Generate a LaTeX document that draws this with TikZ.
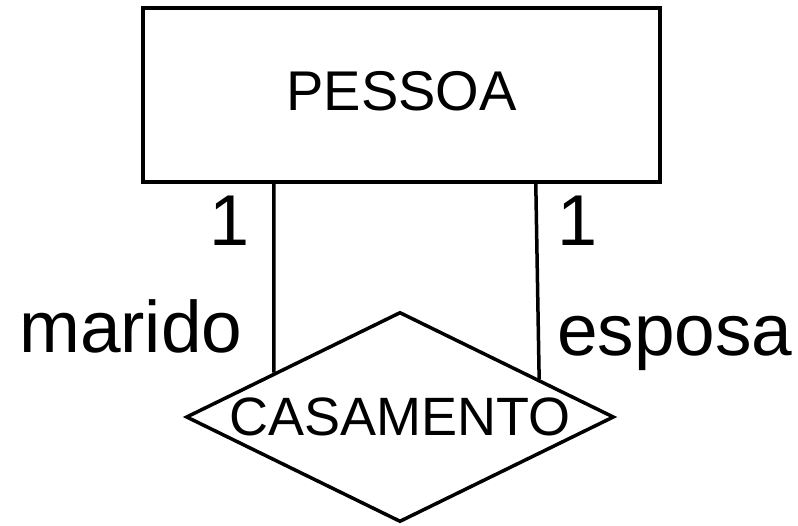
\documentclass[tikz,border=0pt]{standalone}
\usepackage{fontspec}
\setmainfont{Liberation Sans}
\usetikzlibrary{shapes.geometric,calc}
\tikzset{
  ent/.style={draw, line width=3.5pt, rectangle, inner sep=0pt, minimum width=517pt, minimum height=174pt, text depth=8pt, font=\fontsize{56}{60}\selectfont},
  rel/.style={draw, line width=3.5pt, diamond, aspect=2, inner sep=-12pt, minimum width=428pt, minimum height=210pt, font=\fontsize{54}{58}\selectfont},
  conn/.style={line width=3.5pt},
  lbl/.style={inner sep=0pt, anchor=base west, font=\fontsize{73}{78}\selectfont},
  card/.style={inner sep=0pt, anchor=base west, font=\fontsize{72}{76}\selectfont}
}
\begin{document}
\begin{tikzpicture}[x=1pt,y=-1pt]
\useasboundingbox (0,0) rectangle (798,526);
\node[ent] (pessoa) at (401.5,95) {PESSOA};
\node[rel] (casamento) at (400,417) {CASAMENTO};
\coordinate (lt) at ($(pessoa.south west)!0.255!(pessoa.south east)$);
\coordinate (rt) at ($(pessoa.south west)!0.758!(pessoa.south east)$);
\coordinate (lb) at ($(casamento.west)!0.415!(casamento.north)$);
\coordinate (rb) at ($(casamento.north)!0.645!(casamento.east)$);
\draw[conn] (lt) -- (lb);
\draw[conn] (rt) -- (rb);
\node[card] (c1) at (209,246) {1};
\node[card] (c2) at (557,246) {1};
\node[lbl] (marido) at (19,353) {marido};
\node[lbl] (esposa) at (557,356) {esposa};
\end{tikzpicture}
\end{document}
